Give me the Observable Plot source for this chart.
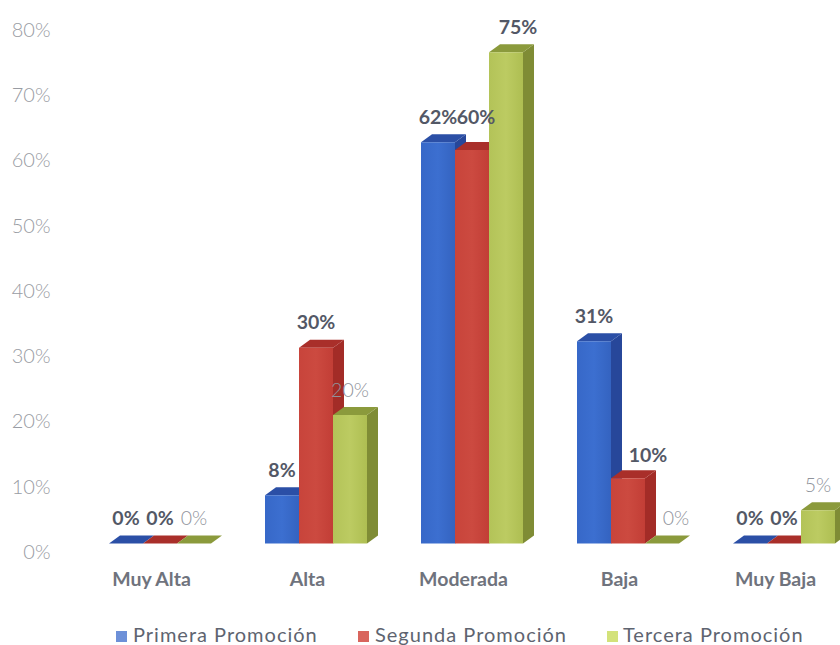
<!DOCTYPE html>
<html><head><meta charset="utf-8">
<script src="https://cdn.jsdelivr.net/npm/d3@7"></script>
<script src="https://cdn.jsdelivr.net/npm/@observablehq/plot@0.6"></script>
<style>
html,body{margin:0;padding:0;background:#fff;overflow:hidden}
#chart svg{display:block}
#legend{position:relative;width:840px;height:30px;font:20px Lato,sans-serif;color:#5e6470;letter-spacing:1px}
#legend span{position:absolute;top:8px;line-height:22px;white-space:nowrap}
#legend i{position:absolute;top:16px;width:11px;height:11px}
</style></head><body>
<div id="chart"></div>
<div id="legend"></div>
<script>
const categories = ["Muy Alta","Alta","Moderada","Baja","Muy Baja"];
const seriesNames = ["Primera Promoción","Segunda Promoción","Tercera Promoción"];
const primera = [0,8,62,31,0];
const segunda = [0,30,60,10,0];
const tercera = [0,20,75,0,5];
const allSeries = [primera,segunda,tercera];
// value -> bar height (labels differ slightly from drawn heights)
const primeraDrawn = [0,7.4,61.5,31,0];
const segundaDrawn = [0,30,60.3,10,0];
const terceraDrawn = [0,19.7,75.3,0,5.1];
const allDrawn = [primeraDrawn,segundaDrawn,terceraDrawn];
const yTicks = [0,10,20,30,40,50,60,70,80];

const front = ["url(#gb)","url(#gr)","url(#gg)"];
const topC  = ["#2b4fa6","#a92f2a","#8b9a3c"];
const sideC = ["#27479a","#a32c27","#7f8c35"];
const legendC = ["#6d90d8","#d9655d","#d3e27a"];

const W = 840, H = 615;
const unit = 156;               // px per category
const barW = 34/unit, depthX = 11/unit, depthY = 8/6.5;

const faces = [];
const labels = [];
// [series][category] -> nudge of the label from its default spot, px
const nudgeX = [[0,0,0,0,0],[0,0,4,20,0],[0,0,12,14,0]];
const nudgeY = [[0,0,0,0,0],[0,0,8,-2,0],[0,0,0,0,0]];
const lightLabel = [[0,0,0,0,0],[0,0,0,0,0],[1,1,0,1,1]];

categories.forEach((c,i)=>{
  allSeries.forEach((vals,s)=>{
    const v = allDrawn[s][i];
    const x0 = i + (s-1.5)*barW, x1 = x0 + barW;
    const id = `${i}-${s}`;
    const push = (face,fill,pts)=>pts.forEach(([x,y])=>faces.push({id:id+face,x,y,fill}));
    if (v>0) push("s",sideC[s],[[x1,0],[x1+depthX,depthY],[x1+depthX,v+depthY],[x1,v]]);
    push("t",topC[s],[[x0,v],[x0+depthX,v+depthY],[x1+depthX,v+depthY],[x1,v]]);
    if (v>0) push("f",front[s],[[x0,0],[x0,v],[x1,v],[x1,0]]);
    labels.push({
      x:(x0+x1)/2 + nudgeX[s][i]/unit,
      y:v + (24.5+nudgeY[s][i])/6.5,
      text:vals[i]+"%",
      light:lightLabel[s][i]===1
    });
  });
});

function grad(id,a,b,c){
  return `<linearGradient id="${id}" x1="0" y1="0" x2="1" y2="0"><stop offset="0" stop-color="${a}"/><stop offset=".5" stop-color="${b}"/><stop offset="1" stop-color="${c}"/></linearGradient>`;
}
const defs = () => {
  const g = document.createElementNS("http://www.w3.org/2000/svg","g");
  g.innerHTML = `<defs>${grad("gb","#3768c8","#3c6fd0","#3463c0")}${grad("gr","#c8443b","#cc4a40","#c23e36")}${grad("gg","#b3c358","#bccb62","#aebe52")}</defs>`;
  return g;
};

const labelText = (light) => Plot.text(labels.filter(d=>d.light===light),{
  x:"x",y:"y",text:"text",fontSize:19.5,
  fontWeight:light?300:700,
  fill:light?"#8f939b":"#535866",
  fontFamily:"Lato, sans-serif"
});

const chart = Plot.plot({
  width:W,height:H,
  marginLeft:50,marginBottom:H-543,marginTop:0,marginRight:0,
  style:{background:"#fff",fontFamily:"Lato, sans-serif"},
  x:{domain:[0,4],range:[159.5,783.5]},
  y:{domain:[0,80],range:[543,21]},
  color:{type:"identity"},
  marks:[
    defs,
    Plot.axisY({ticks:yTicks,tickFormat:d=>d+"%",tickSize:0,tickPadding:0,dy:9,fontSize:20,fontWeight:300,fill:"#999ca3",label:null}),
    Plot.axisX({ticks:[0,1,2,3,4],tickFormat:i=>categories[i],tickSize:0,tickPadding:29,dx:-8.5,fontSize:19.5,fontWeight:700,fill:"#6f737d",label:null,style:{letterSpacing:"2px"}}),
    Plot.line(faces,{x:"x",y:"y",z:"id",fill:"fill",stroke:"none",curve:"linear"}),
    labelText(false),
    labelText(true)
  ]
});
document.getElementById("chart").append(chart);

const legendX = [[116,133],[358,375],[607,623]];
const lg = document.getElementById("legend");
seriesNames.forEach((n,i)=>{
  const sw = document.createElement("i");
  sw.style.left = legendX[i][0]+"px"; sw.style.background = legendC[i];
  const t = document.createElement("span");
  t.style.left = legendX[i][1]+"px"; t.textContent = n;
  lg.append(sw,t);
});
</script>
</body></html>
